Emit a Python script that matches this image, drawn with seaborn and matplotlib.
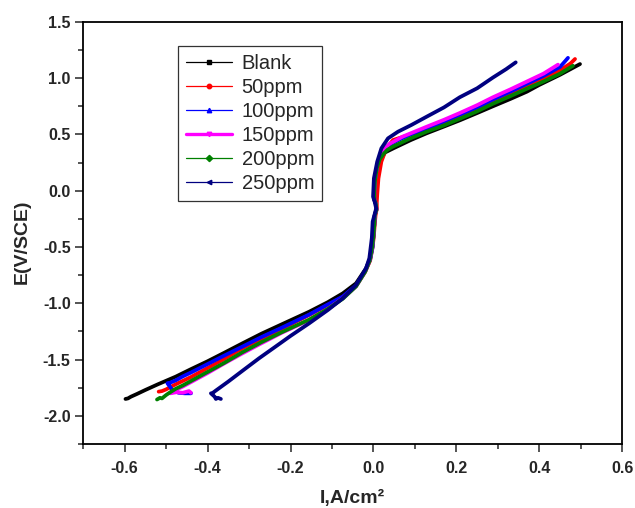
import matplotlib
matplotlib.use("Agg")
import matplotlib.pyplot as plt
from matplotlib.lines import Line2D
from matplotlib.ticker import MultipleLocator, FormatStrFormatter
import seaborn as sns
import pandas as pd

sns.set_style("white")
plt.rcParams['font.family'] = ['Liberation Sans', 'DejaVu Sans']

labels = ["Blank", "50ppm", "100ppm", "150ppm", "200ppm", "250ppm"]
colors = ["#000000", "#FF0000", "#0000FF", "#FF00FF", "#008000", "#000080"]
markers = ["s", "o", "^", "v", "D", "<"]

blank_I = [-0.598, -0.592, -0.585, -0.57, -0.55, -0.52, -0.477, -0.44, -0.40, -0.36, -0.316, -0.27, -0.22, -0.155, -0.11, -0.074, -0.042, -0.018, -0.008, -0.003, 0.0, 0.002, 0.003, 0.007, 0.006, 0.003, 0.003, 0.006, 0.010, 0.017, 0.028, 0.05, 0.09, 0.128, 0.17, 0.208, 0.25, 0.288, 0.33, 0.37, 0.40, 0.45, 0.498]
blank_E = [-1.85, -1.845, -1.83, -1.805, -1.77, -1.72, -1.652, -1.585, -1.515, -1.44, -1.356, -1.27, -1.185, -1.075, -0.99, -0.912, -0.823, -0.69, -0.60, -0.50, -0.40, -0.30, -0.22, -0.17, -0.12, -0.08, 0.0, 0.10, 0.20, 0.28, 0.34, 0.38, 0.45, 0.51, 0.57, 0.625, 0.69, 0.75, 0.815, 0.88, 0.94, 1.03, 1.125]

p50_I = [-0.518, -0.51, -0.50, -0.49, -0.477, -0.46, -0.44, -0.40, -0.36, -0.316, -0.27, -0.22, -0.155, -0.11, -0.074, -0.042, -0.02, -0.008, -0.002, 0.001, 0.003, 0.005, 0.008, 0.008, 0.009, 0.012, 0.019, 0.031, 0.047, 0.09, 0.128, 0.17, 0.208, 0.25, 0.288, 0.33, 0.37, 0.41, 0.45, 0.475, 0.486]
p50_E = [-1.785, -1.78, -1.765, -1.745, -1.72, -1.69, -1.655, -1.575, -1.495, -1.40, -1.315, -1.225, -1.104, -1.015, -0.945, -0.845, -0.72, -0.62, -0.50, -0.40, -0.30, -0.22, -0.16, -0.10, -0.036, 0.11, 0.258, 0.376, 0.45, 0.50, 0.545, 0.60, 0.66, 0.725, 0.79, 0.86, 0.93, 1.0, 1.07, 1.13, 1.17]

p100_I = [-0.44, -0.455, -0.47, -0.485, -0.497, -0.49, -0.477, -0.46, -0.44, -0.40, -0.36, -0.316, -0.27, -0.22, -0.155, -0.11, -0.074, -0.042, -0.02, -0.008, -0.002, 0.0, 0.002, 0.003, 0.007, 0.006, 0.002, 0.002, 0.004, 0.008, 0.013, 0.022, 0.035, 0.06, 0.09, 0.128, 0.17, 0.208, 0.25, 0.288, 0.33, 0.37, 0.41, 0.45, 0.462, 0.469]
p100_E = [-1.80, -1.80, -1.795, -1.77, -1.71, -1.705, -1.685, -1.65, -1.615, -1.54, -1.465, -1.385, -1.30, -1.215, -1.10, -1.01, -0.94, -0.84, -0.71, -0.61, -0.50, -0.40, -0.30, -0.22, -0.17, -0.12, -0.08, 0.0, 0.10, 0.20, 0.28, 0.34, 0.40, 0.45, 0.50, 0.55, 0.615, 0.675, 0.74, 0.81, 0.88, 0.95, 1.02, 1.10, 1.15, 1.18]

p150_I = [-0.44, -0.445, -0.46, -0.475, -0.49, -0.485, -0.477, -0.46, -0.44, -0.40, -0.36, -0.316, -0.27, -0.22, -0.155, -0.11, -0.074, -0.042, -0.02, -0.009, -0.003, 0.0, 0.002, 0.003, 0.007, 0.006, 0.002, 0.002, 0.004, 0.008, 0.013, 0.02, 0.027, 0.039, 0.07, 0.128, 0.17, 0.208, 0.25, 0.288, 0.33, 0.37, 0.41, 0.445]
p150_E = [-1.795, -1.78, -1.795, -1.79, -1.80, -1.78, -1.77, -1.74, -1.70, -1.62, -1.535, -1.445, -1.355, -1.26, -1.149, -1.05, -0.956, -0.85, -0.72, -0.62, -0.50, -0.40, -0.30, -0.22, -0.17, -0.12, -0.08, 0.0, 0.10, 0.20, 0.28, 0.33, 0.373, 0.417, 0.48, 0.568, 0.63, 0.69, 0.76, 0.83, 0.90, 0.97, 1.04, 1.12]

p200_I = [-0.522, -0.515, -0.51, -0.50, -0.49, -0.477, -0.46, -0.44, -0.40, -0.36, -0.316, -0.27, -0.22, -0.155, -0.11, -0.074, -0.042, -0.02, -0.009, -0.003, 0.0, 0.002, 0.003, 0.007, 0.006, 0.002, 0.002, 0.004, 0.008, 0.015, 0.025, 0.034, 0.046, 0.087, 0.128, 0.17, 0.208, 0.25, 0.288, 0.33, 0.37, 0.41, 0.45, 0.481]
p200_E = [-1.855, -1.84, -1.845, -1.815, -1.79, -1.76, -1.73, -1.69, -1.61, -1.53, -1.435, -1.345, -1.255, -1.145, -1.05, -0.96, -0.85, -0.72, -0.62, -0.50, -0.40, -0.30, -0.22, -0.17, -0.12, -0.08, 0.0, 0.10, 0.20, 0.28, 0.33, 0.364, 0.39, 0.462, 0.524, 0.58, 0.639, 0.705, 0.773, 0.84, 0.906, 0.97, 1.04, 1.11]

p250_I = [-0.368, -0.375, -0.380, -0.383, -0.392, -0.389, -0.38, -0.35, -0.316, -0.276, -0.24, -0.20, -0.155, -0.11, -0.074, -0.042, -0.018, -0.010, -0.004, -0.002, 0.002, 0.0065, 0.003, -0.001, 0.001, 0.009, 0.019, 0.035, 0.059, 0.091, 0.128, 0.17, 0.208, 0.25, 0.288, 0.32, 0.343]
p250_E = [-1.85, -1.84, -1.85, -1.83, -1.80, -1.80, -1.775, -1.695, -1.60, -1.489, -1.395, -1.29, -1.178, -1.06, -0.956, -0.838, -0.69, -0.60, -0.42, -0.275, -0.22, -0.157, -0.10, -0.053, 0.11, 0.258, 0.376, 0.465, 0.524, 0.583, 0.657, 0.74, 0.83, 0.91, 1.005, 1.08, 1.14]

series_I = [blank_I, p50_I, p100_I, p150_I, p200_I, p250_I]
series_E = [blank_E, p50_E, p100_E, p150_E, p200_E, p250_E]

frames = []
for lab, xs, ys in zip(labels, series_I, series_E):
    frames.append(pd.DataFrame({"I": xs, "E": ys, "series": lab}))
df = pd.concat(frames, ignore_index=True)

fig = plt.figure(figsize=(6.35, 5.08), dpi=100)
ax = fig.add_axes([0.131, 0.126, 0.849, 0.831])

sns.lineplot(data=df, x="I", y="E", hue="series", hue_order=labels,
             palette=dict(zip(labels, colors)), sort=False, estimator=None,
             units="series", linewidth=2.7, legend=False, ax=ax)

ax.set_xlim(-0.7, 0.6)
ax.set_ylim(-2.25, 1.5)
ax.xaxis.set_major_locator(MultipleLocator(0.2))
ax.xaxis.set_minor_locator(MultipleLocator(0.1))
ax.yaxis.set_major_locator(MultipleLocator(0.5))
ax.yaxis.set_minor_locator(MultipleLocator(0.25))
ax.xaxis.set_major_formatter(FormatStrFormatter("%.1f"))
ax.yaxis.set_major_formatter(FormatStrFormatter("%.1f"))
ax.tick_params(which="major", direction="out", length=6, width=1.1, labelsize=11.5,
               bottom=True, left=True, top=False, right=False)
ax.tick_params(axis="x", which="major", pad=6)
ax.tick_params(axis="y", which="major", pad=3)
ax.tick_params(which="minor", direction="out", length=3.5, width=1.1,
               bottom=True, left=True, top=False, right=False)
for s in ax.spines.values():
    s.set_linewidth(1.3)
    s.set_color("black")

ax.set_xlabel("I,A/cm²", fontsize=14, fontweight="bold", labelpad=10)
ax.set_ylabel("E(V/SCE)", fontsize=14, fontweight="bold")
ax.yaxis.set_label_coords(-0.097, 0.48)

handles = []
for lab, c, m in zip(labels, colors, markers):
    lw = 2.4 if lab == "150ppm" else 0.9
    handles.append(Line2D([0], [0], color=c, lw=lw, marker=m, markersize=3.2))
leg = ax.legend(handles=handles, labels=labels, loc="upper left", bbox_to_anchor=(0.176, 0.943),
                borderaxespad=0, fontsize=14.5, frameon=True, fancybox=False, numpoints=1,
                handlelength=2.3, handletextpad=0.45, labelspacing=0.25, borderpad=0.4)
leg.get_frame().set_edgecolor("black")
leg.get_frame().set_linewidth(0.9)

fig.canvas.draw()
for lbl in ax.get_xticklabels() + ax.get_yticklabels():
    lbl.set_fontweight("bold")

fig.savefig("out.png", dpi=100)
